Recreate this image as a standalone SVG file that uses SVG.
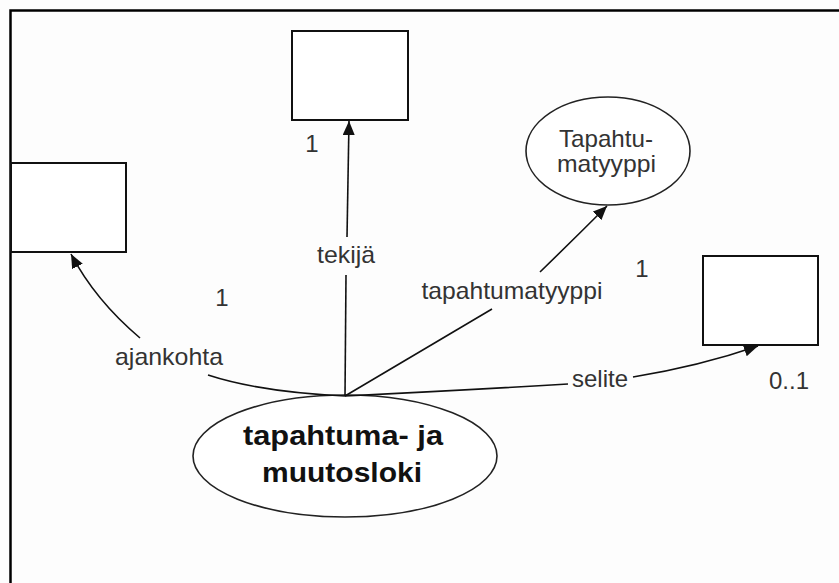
<svg xmlns="http://www.w3.org/2000/svg" width="839" height="583" viewBox="0 0 839 583">
<style>
.box{fill:#fff;stroke:#111;stroke-width:2}
.ell{fill:#fff;stroke:#222;stroke-width:1.6}
.con{fill:none;stroke:#111;stroke-width:1.6}
.lbl{font-family:"Liberation Sans",Arial,sans-serif;font-size:24px;fill:#333;text-anchor:middle}
.bold{font-family:"Liberation Sans",Arial,sans-serif;font-size:27px;font-weight:bold;fill:#111;text-anchor:middle}
</style>
<defs>
<marker id="arr" markerUnits="userSpaceOnUse" markerWidth="16" markerHeight="14" refX="14" refY="6" orient="auto">
<path d="M0,0 L14,6 L0,12 Z" fill="#111"/>
</marker>
</defs>
<rect width="839" height="583" fill="#fdfdfd"/>
<path d="M10.5,583 V10.5 H839" fill="none" stroke="#000" stroke-width="2.5"/>
<g id="box-top"><rect class="box" x="292" y="31" width="116" height="89"/></g>
<g id="box-left"><rect class="box" x="11" y="163" width="115" height="89"/></g>
<g id="box-right"><rect class="box" x="703" y="256" width="115" height="89"/></g>
<g id="tapahtumatyyppi-node">
<ellipse class="ell" cx="608" cy="151" rx="82" ry="54"/>
<text class="lbl" x="606" y="147" textLength="94" lengthAdjust="spacingAndGlyphs">Tapahtu-</text>
<text class="lbl" x="606.5" y="172" textLength="99" lengthAdjust="spacingAndGlyphs">matyyppi</text>
</g>
<g id="main-node">
<ellipse class="ell" cx="345" cy="456" rx="152" ry="61"/>
<text class="bold" x="343" y="445" textLength="200" lengthAdjust="spacingAndGlyphs">tapahtuma- ja</text>
<text class="bold" x="342" y="482" textLength="160" lengthAdjust="spacingAndGlyphs">muutosloki</text>
</g>
<g id="connectors">
<path class="con" d="M345,396 L346,275"/>
<path class="con" d="M347,237 L349,121" marker-end="url(#arr)"/>
<path class="con" d="M208,375 Q260,392 345,396"/>
<path class="con" d="M140,338 Q95,300 71,254" marker-end="url(#arr)"/>
<path class="con" d="M345,396 L492,309"/>
<path class="con" d="M540,272 Q575,238 607,206" marker-end="url(#arr)"/>
<path class="con" d="M345,396 Q470,390 568,384"/>
<path class="con" d="M633,377 Q700,366 758,346" marker-end="url(#arr)"/>
</g>
<g id="labels">
<text class="lbl" x="346" y="263" textLength="58" lengthAdjust="spacingAndGlyphs">tekijä</text>
<text class="lbl" x="169" y="365" textLength="108" lengthAdjust="spacingAndGlyphs">ajankohta</text>
<text class="lbl" x="512" y="299" textLength="181" lengthAdjust="spacingAndGlyphs">tapahtumatyyppi</text>
<text class="lbl" x="600" y="387" textLength="56" lengthAdjust="spacingAndGlyphs">selite</text>
<text class="lbl" x="312" y="152">1</text>
<text class="lbl" x="222" y="306">1</text>
<text class="lbl" x="642" y="277">1</text>
<text class="lbl" x="789" y="389" textLength="40" lengthAdjust="spacingAndGlyphs">0..1</text>
</g>
</svg>
